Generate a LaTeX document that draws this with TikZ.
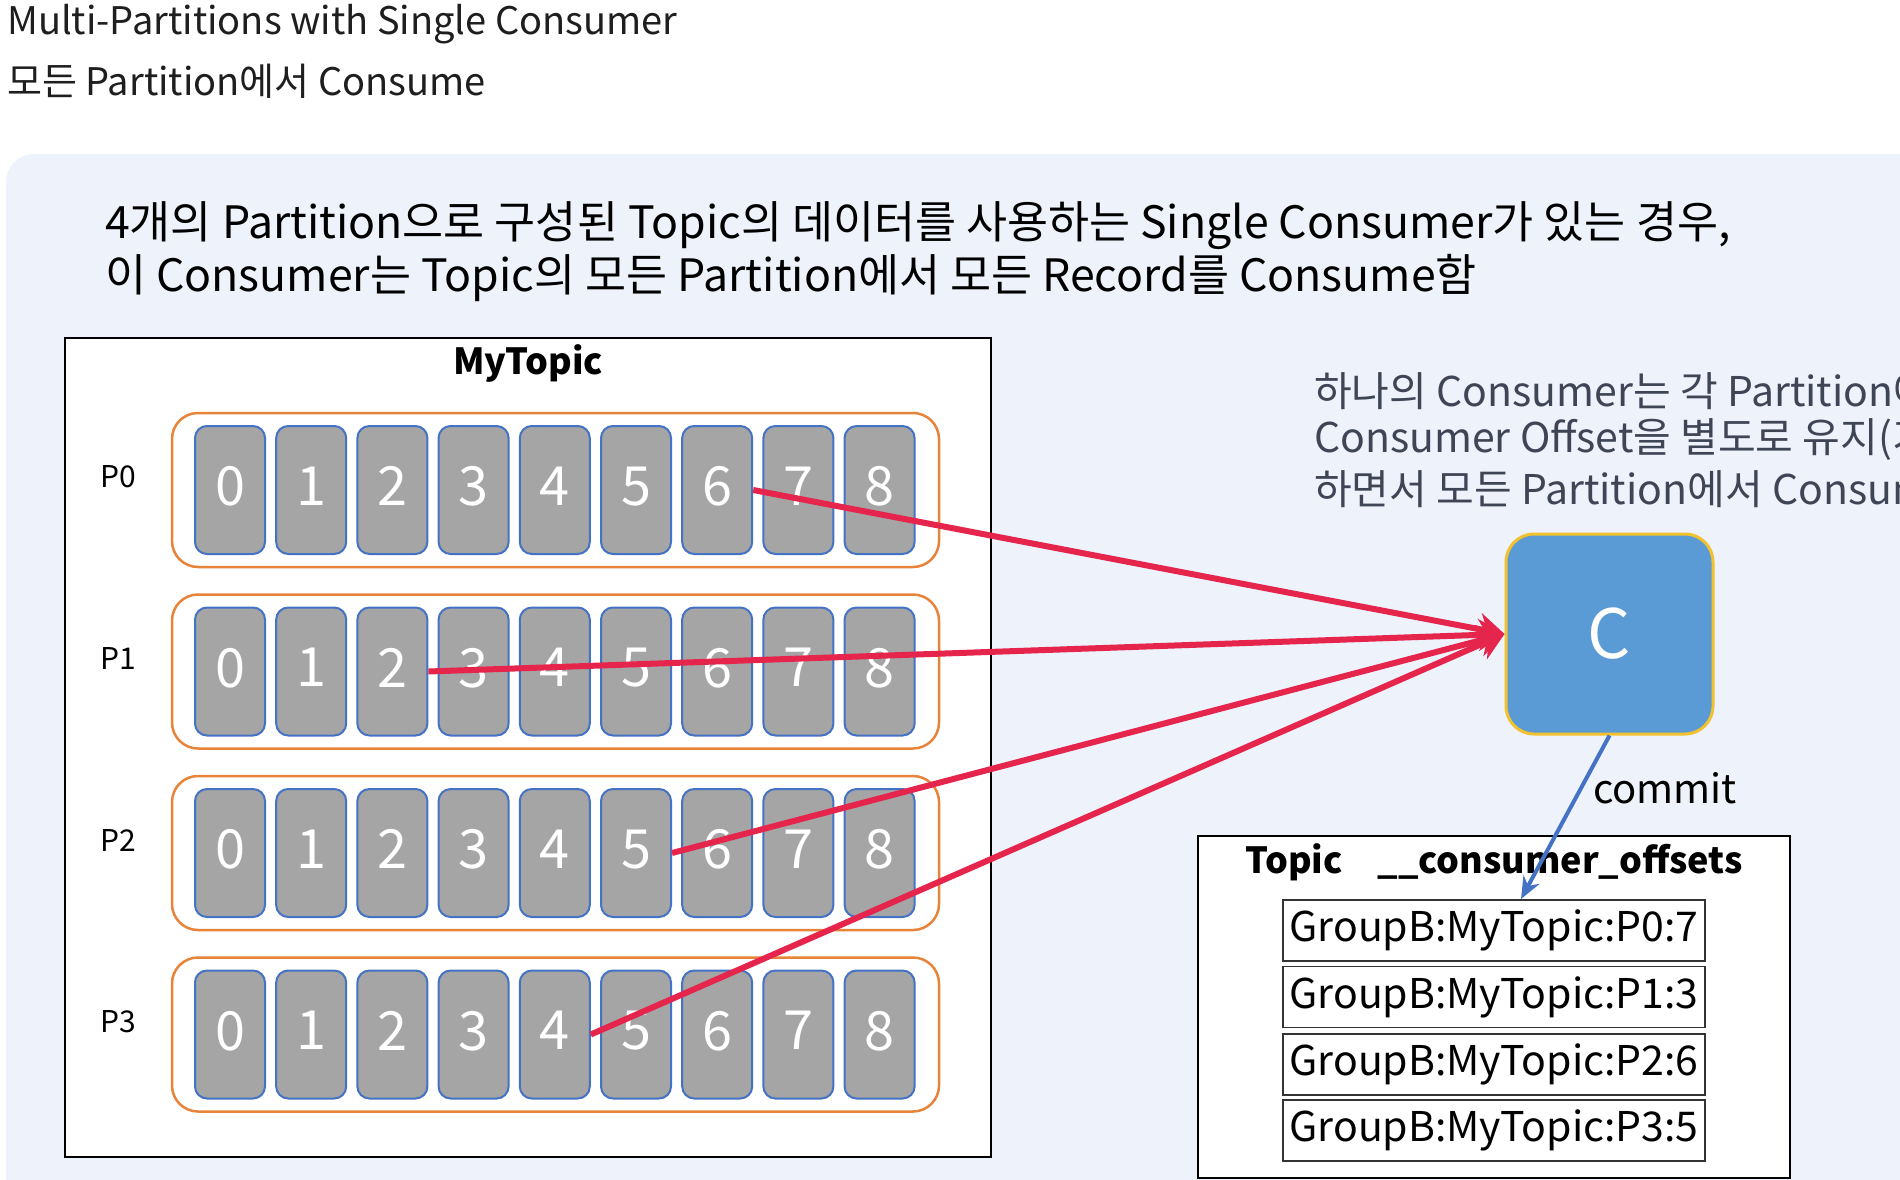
\documentclass[tikz,border=0pt]{standalone}
\usepackage{fontspec}
\setmainfont{Noto Sans CJK KR}
\usetikzlibrary{arrows.meta}
\definecolor{panel}{HTML}{EEF2FB}
\definecolor{cellgray}{HTML}{A5A5A5}
\definecolor{cellblue}{HTML}{4472C4}
\definecolor{partorange}{HTML}{E8843A}
\definecolor{cblue}{HTML}{5B9BD5}
\definecolor{cgold}{HTML}{F2C12E}
\definecolor{redarrow}{HTML}{E6254D}
\definecolor{notegray}{HTML}{3E4656}
\definecolor{titleblack}{HTML}{1E1E1E}
\newcommand{\fsz}[1]{\fontsize{#1}{#1}\selectfont}
\begin{document}
\begin{tikzpicture}[x=1pt,y=-1pt,
  txt/.style={inner sep=0pt, anchor=west},
  cellbox/.style={draw=cellblue, fill=cellgray, line width=2pt, rounded corners=12pt,
    minimum width=70pt, minimum height=128pt, inner sep=0pt, text=white, font=\fsz{54}},
  partbox/.style={draw=partorange, line width=2.5pt, rounded corners=26pt,
    minimum width=767pt, minimum height=154pt, fill=white},
  plabel/.style={inner sep=0pt, font=\fsz{30}},
  frame/.style={draw=black, line width=2.5pt, fill=white, inner sep=0pt},
  gbox/.style={draw=black!80, line width=1.5pt, minimum width=422pt, minimum height=61pt,
    inner sep=0pt, font=\fsz{41}},
  cbox/.style={draw=cgold, line width=3pt, fill=cblue, rounded corners=28pt,
    minimum width=207pt, minimum height=200pt, text=white, font=\fsz{68}},
  redline/.style={draw=redarrow, line width=6pt, -{Stealth[length=26pt,width=32pt]}},
  bluearrow/.style={draw=cellblue, line width=4pt, -{Stealth[length=22pt,width=18pt]}}
]
\useasboundingbox (0,0) rectangle (1900,1180);
\clip (0,0) rectangle (1900,1180);
\fill[white] (0,0) rectangle (1900,1180);
\fill[panel, rounded corners=28pt] (6,154) rectangle (1980,1260);

% titles
\node[txt, text=titleblack, font=\fsz{38}] (title1) at (7,24) {Multi-Partitions with Single Consumer};
\node[txt, text=titleblack, font=\fsz{38}] (title2) at (7,81) {모든 Partition에서 Consume};

% description
\node[txt, font=\fsz{44.6}] (desc1) at (105,226) {4개의 Partition으로 구성된 Topic의 데이터를 사용하는 Single Consumer가 있는 경우,};
\node[txt, font=\fsz{44.6}] (desc2) at (105,278) {이 Consumer는 Topic의 모든 Partition에서 모든 Record를 Consume함};

% note on right (cut by the right edge, as in the reference)
\node[txt, text=notegray, font=\fsz{41}] (note1) at (1314,391) {하나의 Consumer는 각 Partition에서};
\node[txt, text=notegray, font=\fsz{41}] (note2) at (1314,440) {Consumer Offset을 별도로 유지(기록)};
\node[txt, text=notegray, font=\fsz{41}] (note3) at (1314,489) {하면서 모든 Partition에서 Consume함};

% MyTopic frame
\node[frame, minimum width=926pt, minimum height=819pt] (mytopic) at (528,747.5) {};
\node[inner sep=0pt, font=\fsz{36}\bfseries] (mytopiclbl) at (528,363) {MyTopic};

\foreach \r/\yc in {0/490,1/671.5,2/853,3/1034.5}{
  \node[partbox] (part\r) at (555.5,\yc) {};
  \node[plabel] (plab\r) at (118,\yc-13) {P\r};
  \foreach \k in {0,...,8}{
    \node[cellbox] (c\r-\k) at ({230+81.2*\k},\yc) {\raisebox{8pt}{\k}};
  }
}

% consumer
\node[cbox] (C) at (1609.5,634) {C};

% offsets topic
\node[frame, minimum width=592pt, minimum height=342pt] (offtopic) at (1494,1007) {};
\node[inner sep=0pt, font=\fsz{36}\bfseries] (topiclbl) at (1294,862) {Topic};
\node[inner sep=0pt, font=\fsz{36}\bfseries] (offlbl) at (1560,862) {\_\_consumer\_offsets};
\node[gbox] (g0) at (1494,930.5) {GroupB:MyTopic:P0:7};
\node[gbox] (g1) at (1494,997) {GroupB:MyTopic:P1:3};
\node[gbox] (g2) at (1494,1064.5) {GroupB:MyTopic:P2:6};
\node[gbox] (g3) at (1494,1130.5) {GroupB:MyTopic:P3:5};

% red arrows
\draw[redline] (c0-6.east) -- (C.west);
\draw[redline] (c1-2.east) -- (C.west);
\draw[redline] (c2-5.east) -- (C.west);
\draw[redline] (c3-4.east) -- (C.west);

% commit arrow
\coordinate (cend) at (1521,899);
\draw[bluearrow] (C.south) -- (cend);
\node[inner sep=0pt, font=\fsz{40}] (commitlbl) at (1665,788) {commit};
\end{tikzpicture}
\end{document}
